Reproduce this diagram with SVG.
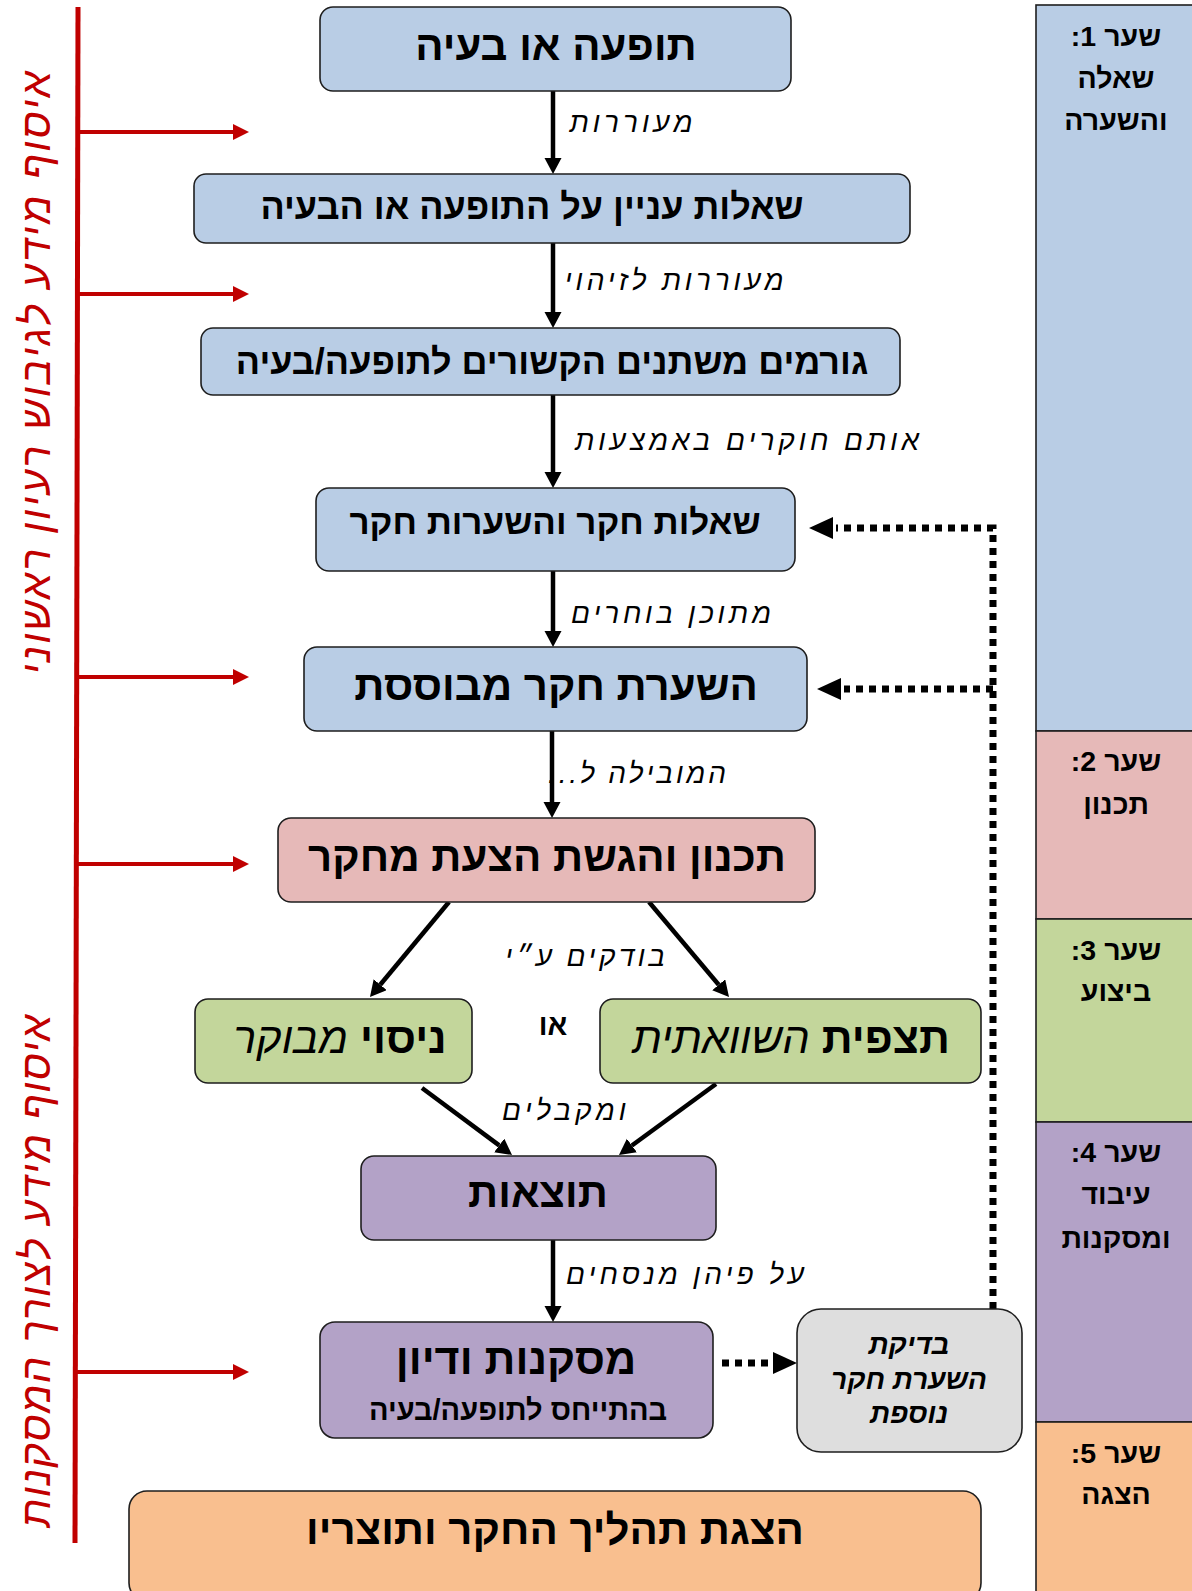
<svg xmlns="http://www.w3.org/2000/svg" width="1192" height="1591" viewBox="0 0 1192 1591">
<style>
text{font-family:"Liberation Sans",Arial,sans-serif;direction:rtl;text-anchor:middle;fill:#000}
.b{font-weight:bold}
.lbl{font-style:italic;font-size:28px}
.red{font-style:italic;font-size:42px;fill:#c00000}
.col{font-weight:bold;font-size:28.5px}
.box{stroke:#1e1e1e;stroke-width:1.6}
.blue{fill:#b9cde5}.pink{fill:#e6b9b8}.green{fill:#c3d69b}.purple{fill:#b3a2c7}.orange{fill:#f9bf8f}.gray{fill:#dedede}
.arr{stroke:#000;stroke-width:4.5;fill:none;marker-end:url(#ah)}
.rarr{stroke:#c00000;stroke-width:4;fill:none;marker-end:url(#rh)}
.dot{stroke:#000;stroke-width:7;fill:none;stroke-dasharray:7 6}
</style>
<defs>
<marker id="ah" markerUnits="userSpaceOnUse" markerWidth="18" markerHeight="18" refX="0" refY="8.5" orient="auto"><path d="M0,0 L16,8.5 L0,17 z" fill="#000"/></marker>
<marker id="rh" markerUnits="userSpaceOnUse" markerWidth="18" markerHeight="18" refX="0" refY="8" orient="auto"><path d="M0,0 L16,8 L0,16 z" fill="#c00000"/></marker>
</defs>

<g id="stages">
<rect x="1036" y="5" width="160" height="726" class="box blue"/>
<rect x="1036" y="731" width="160" height="188" class="box pink"/>
<rect x="1036" y="919" width="160" height="203" class="box green"/>
<rect x="1036" y="1122" width="160" height="300" class="box purple"/>
<rect x="1036" y="1422" width="160" height="175" class="box orange"/>
<text class="col" x="1116" y="46">שער 1:</text>
<text class="col" x="1116" y="88">שאלה</text>
<text class="col" x="1116" y="130">והשערה</text>
<text class="col" x="1116" y="771">שער 2:</text>
<text class="col" x="1116" y="814">תכנון</text>
<text class="col" x="1116" y="960">שער 3:</text>
<text class="col" x="1116" y="1001">ביצוע</text>
<text class="col" x="1116" y="1162">שער 4:</text>
<text class="col" x="1116" y="1204">עיבוד</text>
<text class="col" x="1116" y="1248">ומסקנות</text>
<text class="col" x="1116" y="1463">שער 5:</text>
<text class="col" x="1116" y="1504">הצגה</text>
</g>

<g id="side">
<line x1="78" y1="7" x2="75" y2="1543" stroke="#c00000" stroke-width="5"/>
<text class="red" transform="translate(50,373) rotate(-90)" textLength="604">איסוף מידע לגיבוש רעיון ראשוני</text>
<text class="red" transform="translate(50,1271) rotate(-90)" textLength="513">איסוף מידע לצורך המסקנות</text>
</g>

<g id="connectors">
<line class="rarr" x1="78" y1="132" x2="233" y2="132"/>
<line class="rarr" x1="78" y1="294" x2="233" y2="294"/>
<line class="rarr" x1="77" y1="677" x2="233" y2="677"/>
<line class="rarr" x1="77" y1="864" x2="233" y2="864"/>
<line class="rarr" x1="76" y1="1372" x2="233" y2="1372"/>

<line class="arr" x1="553" y1="91" x2="553" y2="158"/>
<line class="arr" x1="553" y1="243" x2="553" y2="312"/>
<line class="arr" x1="553" y1="395" x2="553" y2="472"/>
<line class="arr" x1="553" y1="571" x2="553" y2="631"/>
<line class="arr" x1="552" y1="731" x2="552" y2="802"/>
<line class="arr" x1="449" y1="902" x2="380.2" y2="984.7"/>
<line class="arr" x1="649" y1="902" x2="718.7" y2="984.8"/>
<line class="arr" x1="422" y1="1088" x2="499.2" y2="1145.4"/>
<line class="arr" x1="716" y1="1084" x2="631.9" y2="1145.5"/>
<line class="arr" x1="553" y1="1240" x2="553" y2="1306"/>

<polyline class="dot" points="993,1309 993,528 836,528"/>
<line class="dot" x1="993" y1="689" x2="844" y2="689"/>
<line class="dot" x1="722" y1="1363" x2="772" y2="1363"/>
<path d="M833,517 L809,528 L833,539 z" fill="#000"/>
<path d="M841,678 L817,689 L841,700 z" fill="#000"/>
<path d="M773,1352 L797,1363 L773,1374 z" fill="#000"/>

<text class="lbl" x="631" y="132" textLength="123">מעוררות</text>
<text class="lbl" x="674" y="290" textLength="219">מעוררות לזיהוי</text>
<text class="lbl" x="747" y="450" textLength="344">אותם חוקרים באמצעות</text>
<text class="lbl" x="671" y="623" textLength="200">מתוכן בוחרים</text>
<text class="lbl" x="637" y="783" textLength="178">המובילה ל...</text>
<text class="lbl" x="585" y="966" textLength="160">בודקים ע״י</text>
<text class="lbl" x="564" y="1120" textLength="124">ומקבלים</text>
<text class="lbl" x="685" y="1284" textLength="238">על פיהן מנסחים</text>
<text class="b" x="553" y="1035" font-size="29">או</text>
</g>

<g id="n1"><rect x="320" y="7" width="471" height="84" rx="13" class="box blue"/><text class="b" x="556" y="60" font-size="42">תופעה או בעיה</text></g>
<g id="n2"><rect x="194" y="174" width="716" height="69" rx="12" class="box blue"/><text class="b" x="532" y="219" font-size="36">שאלות עניין על התופעה או הבעיה</text></g>
<g id="n3"><rect x="201" y="328" width="699" height="67" rx="12" class="box blue"/><text class="b" x="552" y="374" font-size="36">גורמים משתנים הקשורים לתופעה/בעיה</text></g>
<g id="n4"><rect x="316" y="488" width="479" height="83" rx="13" class="box blue"/><text class="b" x="555" y="534" font-size="35">שאלות חקר והשערות חקר</text></g>
<g id="n5"><rect x="304" y="647" width="503" height="84" rx="13" class="box blue"/><text class="b" x="556" y="700" font-size="42">השערת חקר מבוססת</text></g>
<g id="n6"><rect x="278" y="818" width="537" height="84" rx="13" class="box pink"/><text class="b" x="547" y="871" font-size="42">תכנון והגשת הצעת מחקר</text></g>
<g id="n7"><rect x="195" y="999" width="277" height="84" rx="13" class="box green"/><text x="340" y="1053" font-size="43"><tspan class="b">ניסוי</tspan> <tspan font-style="italic">מבוקר</tspan></text></g>
<g id="n8"><rect x="600" y="999" width="381" height="84" rx="13" class="box green"/><text x="791" y="1053" font-size="43"><tspan class="b">תצפית</tspan> <tspan font-style="italic">השוואתית</tspan></text></g>
<g id="n9"><rect x="361" y="1156" width="355" height="84" rx="13" class="box purple"/><text class="b" x="538" y="1207" font-size="42">תוצאות</text></g>
<g id="n10"><rect x="320" y="1322" width="393" height="116" rx="15" class="box purple"/><text class="b" x="516" y="1374" font-size="43">מסקנות ודיון</text><text class="b" x="518" y="1420" font-size="29">בהתייחס לתופעה/בעיה</text></g>
<g id="n11"><rect x="797" y="1309" width="225" height="143" rx="24" class="box gray"/><text class="lbl b" x="909" y="1354">בדיקת</text><text class="lbl b" x="909" y="1389">השערת חקר</text><text class="lbl b" x="909" y="1423">נוספת</text></g>
<g id="n12"><rect x="129" y="1491" width="852" height="110" rx="18" class="box orange"/><text class="b" x="555" y="1544" font-size="42">הצגת תהליך החקר ותוצריו</text></g>
</svg>
